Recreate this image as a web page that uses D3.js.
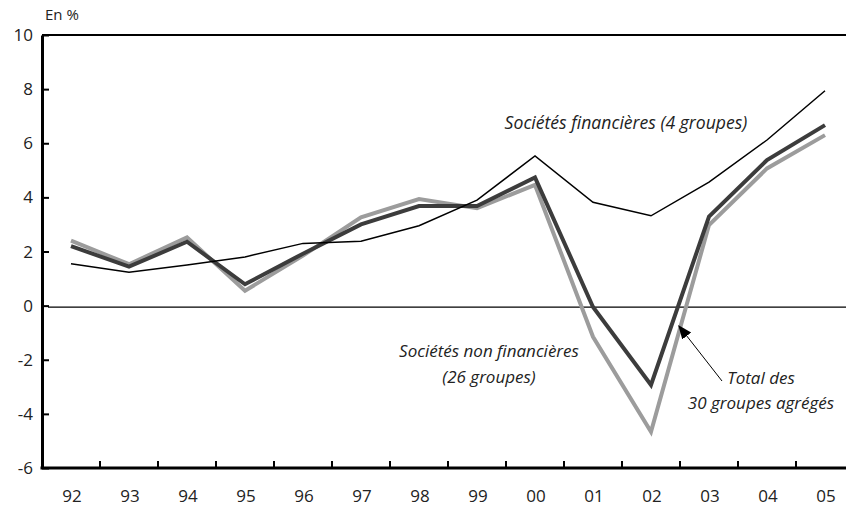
<!DOCTYPE html>
<html lang="fr">
<head>
  <meta charset="UTF-8">
  <title>Rentabilité des groupes</title>
  <script src="https://cdn.jsdelivr.net/npm/d3@7"></script>
  <style>
    body { margin: 0; background: #fff; }
    svg text { font-family: "Open Sans", Lato, sans-serif; fill: #222; }
  </style>
</head>
<body>
  <svg width="846" height="506"></svg>
  <script>
    // data
    var years = ["92", "93", "94", "95", "96", "97", "98", "99", "00", "01", "02", "03", "04", "05"];
    var financieres = [1.55, 1.23, 1.5, 1.8, 2.3, 2.38, 2.95, 3.9, 5.53, 3.82, 3.32, 4.56, 6.12, 7.94];
    var total = [2.2, 1.44, 2.36, 0.79, 1.92, 3.0, 3.68, 3.68, 4.74, -0.05, -2.93, 3.29, 5.38, 6.67];
    var nonFinancieres = [2.4, 1.53, 2.52, 0.55, 1.85, 3.26, 3.94, 3.6, 4.46, -1.15, -4.66, 2.98, 5.07, 6.3];
    var yTicks = [-6, -4, -2, 0, 2, 4, 6, 8, 10];

    var svg = d3.select("svg"),
        plotLeft = 42, plotRight = 854, plotTop = 35, plotBottom = 468;

    var x = d3.scaleBand().domain(years).range([plotLeft, plotRight]);
    var y = d3.scaleLinear().domain([-6, 10]).range([plotBottom, plotTop]);
    var cx = function (d, i) { return x(years[i]) + x.bandwidth() / 2; };

    // top border
    svg.append("line")
        .attr("x1", plotLeft).attr("x2", 846)
        .attr("y1", plotTop).attr("y2", plotTop)
        .attr("stroke", "#000").attr("stroke-width", 2);

    // zero line
    svg.append("line")
        .attr("x1", plotLeft + 6).attr("x2", 846)
        .attr("y1", y(0) + 1.5).attr("y2", y(0) + 1.5)
        .attr("stroke", "#000").attr("stroke-width", 1.2);

    // y axis
    var yAxis = svg.append("g")
        .attr("transform", "translate(" + plotLeft + ",0)")
        .call(d3.axisRight(y).tickValues(yTicks).tickSize(7).tickSizeOuter(0).tickFormat(""));
    yAxis.select(".domain").attr("stroke", "#000").attr("stroke-width", 3);
    yAxis.selectAll(".tick line").attr("stroke", "#000").attr("stroke-width", 2);

    svg.append("g").selectAll("text")
        .data(yTicks).enter().append("text")
        .attr("x", 33).attr("y", function (d) { return y(d); })
        .attr("dy", "0.36em")
        .attr("text-anchor", "end")
        .attr("font-size", 17)
        .text(function (d) { return d; });

    // x axis: ticks between categories
    var bounds = years.slice(1).map(function (d) { return x(d); });
    svg.append("g").selectAll("line")
        .data(bounds).enter().append("line")
        .attr("x1", function (d) { return d; }).attr("x2", function (d) { return d; })
        .attr("y1", plotBottom).attr("y2", plotBottom - 7)
        .attr("stroke", "#000").attr("stroke-width", 2);
    svg.append("line")
        .attr("x1", plotLeft - 1.5).attr("x2", 846)
        .attr("y1", plotBottom).attr("y2", plotBottom)
        .attr("stroke", "#000").attr("stroke-width", 3);

    svg.append("g").selectAll("text")
        .data(years).enter().append("text")
        .attr("x", function (d) { return x(d) + x.bandwidth() / 2 + 1; })
        .attr("y", 502)
        .attr("text-anchor", "middle")
        .attr("font-size", 17)
        .text(function (d) { return d; });

    svg.append("text")
        .attr("x", 45).attr("y", 20)
        .attr("font-size", 15)
        .text("En %");

    // series
    var line = d3.line()
        .x(cx)
        .y(function (d) { return y(d); });

    svg.append("path").datum(nonFinancieres)
        .attr("d", line).attr("fill", "none")
        .attr("stroke", "#9c9c9c").attr("stroke-width", 4);
    svg.append("path").datum(total)
        .attr("d", line).attr("fill", "none")
        .attr("stroke", "#3c3c3c").attr("stroke-width", 4);
    svg.append("path").datum(financieres)
        .attr("d", line).attr("fill", "none")
        .attr("stroke", "#000").attr("stroke-width", 1.5);

    // annotations
    var note = svg.append("g")
        .attr("font-size", 17)
        .attr("font-style", "italic")
        .attr("text-anchor", "middle");
    note.append("text").attr("x", 626).attr("y", 129).attr("font-size", 17.6).text("Sociétés financières (4 groupes)");
    note.append("text").attr("x", 489).attr("y", 357).text("Sociétés non financières");
    note.append("text").attr("x", 489).attr("y", 383).text("(26 groupes)");
    note.append("text").attr("x", 761).attr("y", 384).text("Total des");
    note.append("text").attr("x", 761).attr("y", 409).text("30 groupes agrégés");

    svg.append("defs").append("marker")
        .attr("id", "arrow")
        .attr("viewBox", "0 0 10 10")
        .attr("refX", 9).attr("refY", 5)
        .attr("markerWidth", 14).attr("markerHeight", 14)
        .attr("markerUnits", "userSpaceOnUse")
        .attr("orient", "auto")
        .append("path").attr("d", "M0,1 L10,5 L0,9 Z").attr("fill", "#000");

    svg.append("line")
        .attr("x1", 722).attr("y1", 381)
        .attr("x2", 679).attr("y2", 326)
        .attr("stroke", "#000").attr("stroke-width", 1)
        .attr("marker-end", "url(#arrow)");
  </script>
</body>
</html>
